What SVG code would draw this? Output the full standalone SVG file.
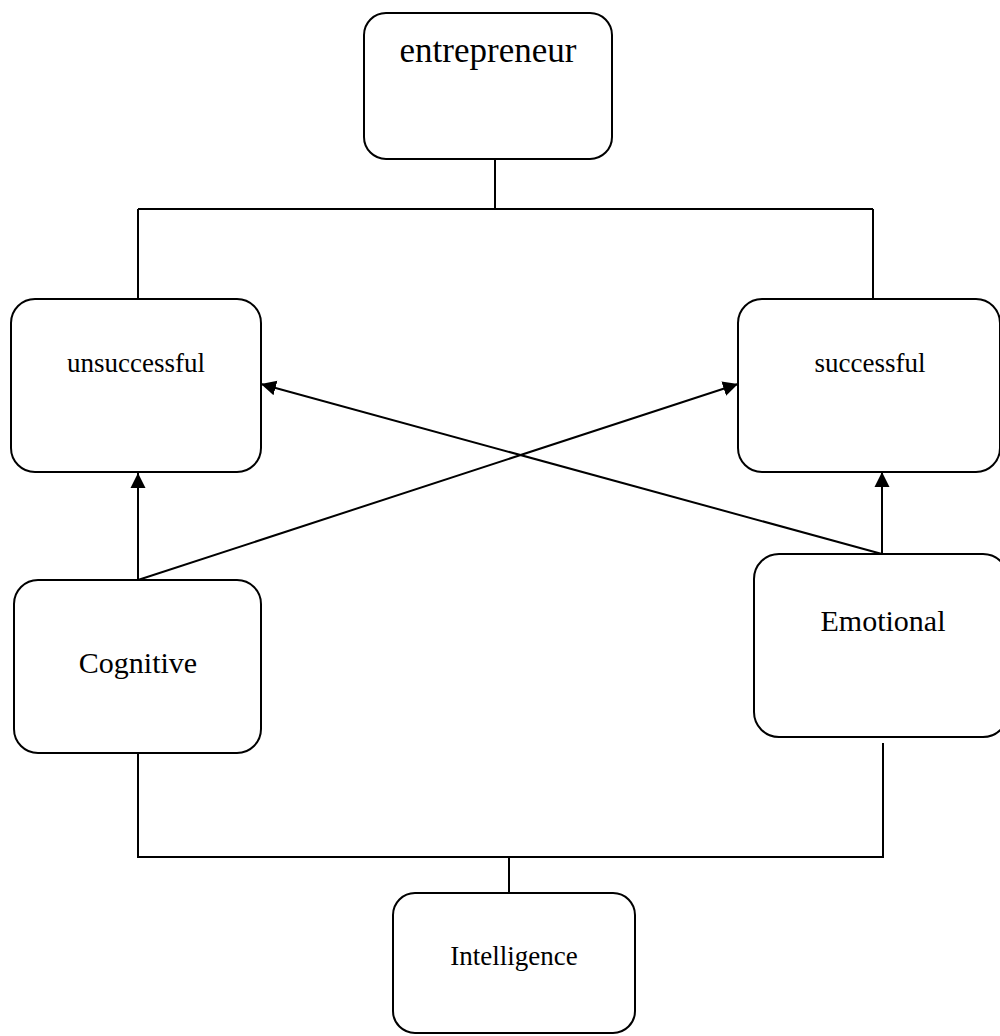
<svg xmlns="http://www.w3.org/2000/svg" width="1000" height="1036" viewBox="0 0 1000 1036">
<style>
.box{fill:#fff;stroke:#000;stroke-width:2}
.lbl{font-family:"Liberation Serif","Times New Roman",serif;fill:#000;text-anchor:middle}
.ln{fill:none;stroke:#000;stroke-width:2}
</style>
<defs>
<marker id="ah" markerUnits="userSpaceOnUse" markerWidth="16" markerHeight="16" viewBox="0 0 16 16" refX="15" refY="8" orient="auto">
<path d="M0,0.5 L15,8 L0,15.5 Z" fill="#000"/>
</marker>
</defs>
<rect width="1000" height="1036" fill="#fff"/>
<g id="connectors">
<path class="ln" d="M495,159 V209 M138,209 H873 M138,209 V299 M873,209 V299"/>
<path class="ln" d="M138,580 V473" marker-end="url(#ah)"/>
<path class="ln" d="M882,554 V472" marker-end="url(#ah)"/>
<path class="ln" d="M138,580 L738,384" marker-end="url(#ah)"/>
<path class="ln" d="M882,554 L261,384" marker-end="url(#ah)"/>
<path class="ln" d="M138,753 V857 H883 V743 M509,857 V893"/>
</g>
<g id="entrepreneur">
<rect class="box" x="364" y="13" width="248" height="146" rx="22"/>
<text class="lbl" x="488" y="62" font-size="35">entrepreneur</text>
</g>
<g id="unsuccessful">
<rect class="box" x="11" y="299" width="250" height="173" rx="24"/>
<text class="lbl" x="136" y="372" font-size="27">unsuccessful</text>
</g>
<g id="successful">
<rect class="box" x="738" y="299" width="262" height="173" rx="24"/>
<text class="lbl" x="870" y="372" font-size="27">successful</text>
</g>
<g id="cognitive">
<rect class="box" x="14" y="580" width="247" height="173" rx="24"/>
<text class="lbl" x="138" y="673" font-size="30">Cognitive</text>
</g>
<g id="emotional">
<rect class="box" x="754" y="554" width="254" height="183" rx="25"/>
<text class="lbl" x="883" y="631" font-size="30">Emotional</text>
</g>
<g id="intelligence">
<rect class="box" x="393" y="893" width="242" height="140" rx="22"/>
<text class="lbl" x="514" y="965" font-size="27">Intelligence</text>
</g>
</svg>
